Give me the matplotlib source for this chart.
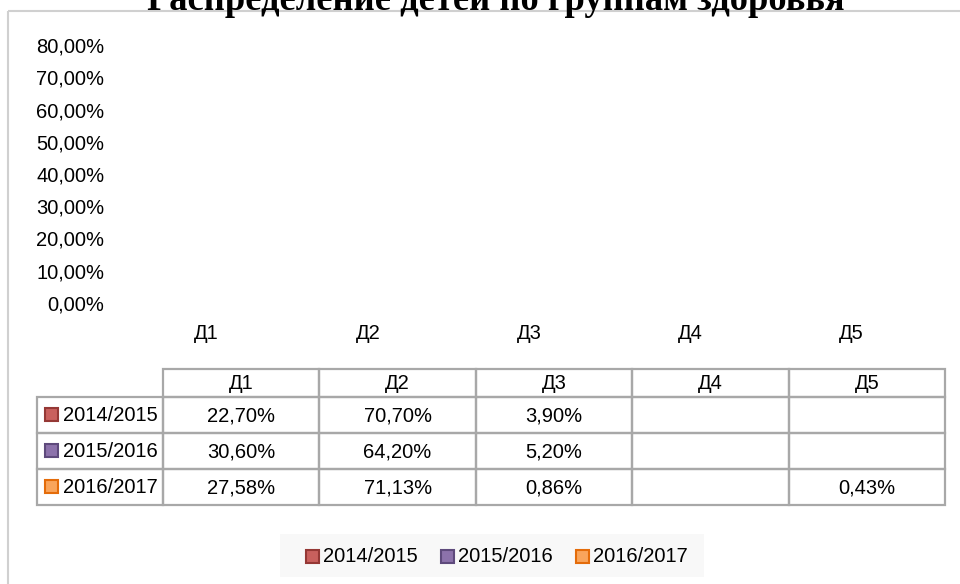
import matplotlib
matplotlib.use("Agg")
import matplotlib.pyplot as plt
from matplotlib.patches import Rectangle
from matplotlib import font_manager as fm

# ---------------- data ----------------
title = "Распределение детей по группам здоровья"
categories = ["Д1", "Д2", "Д3", "Д4", "Д5"]
series_names = ["2014/2015", "2015/2016", "2016/2017"]
values_2014 = [22.70, 70.70, 3.90, None, None]
values_2015 = [30.60, 64.20, 5.20, None, None]
values_2016 = [27.58, 71.13, 0.86, None, 0.43]
y_ticks = [0, 10, 20, 30, 40, 50, 60, 70, 80]

series_values = [values_2014, values_2015, values_2016]
fills = ["#C9605D", "#8C72AB", "#F9A55C"]
edges = ["#953835", "#5E4A7C", "#E46C0A"]

names = {f.name for f in fm.fontManager.ttflist}
sans = "Liberation Sans Narrow" if "Liberation Sans Narrow" in names else "Liberation Sans"
plt.rcParams["font.family"] = [sans, "DejaVu Sans"]
FS = 17.5 if sans == "Liberation Sans Narrow" else 14.5

W, H = 960, 584
fig = plt.figure(figsize=(W / 100, H / 100), dpi=100)

def fx(px):
    return px / W

def fy(py):
    return 1 - py / H

# overlay axes in pixel coordinates
ov = fig.add_axes([0, 0, 1, 1])
ov.set_xlim(0, W)
ov.set_ylim(H, 0)
ov.axis("off")

# outer chart frame (extends past the image)
ov.add_patch(Rectangle((7.5, 10.5), 980, 600, fill=False, edgecolor="#D0D0D0", lw=1.5))

# ---------------- main axes (no visible bars in reference) ----------------
ax_l, ax_r = 126, 932
ax_t, ax_b = 45, 303
ax = fig.add_axes([fx(ax_l), fy(ax_b), fx(ax_r - ax_l), (ax_b - ax_t) / H])
ax.set_facecolor("none")
ax.set_xlim(0, len(categories))
ax.set_ylim(0, 80)
ax.set_yticks(y_ticks)
ax.set_yticklabels([f"{v:.2f}%".replace(".", ",") for v in y_ticks], fontsize=FS)
ax.set_xticks([i + 0.5 for i in range(len(categories))])
ax.set_xticklabels(categories, fontsize=FS)
ax.tick_params(axis="y", length=0, pad=15.5)
ax.tick_params(axis="x", length=0, pad=15)
for s in ax.spines.values():
    s.set_visible(False)

# ---------------- title ----------------
t = fig.text(fx(496), fy(10), title, ha="center", va="baseline",
             family="Liberation Serif", weight="bold", fontsize=20)
fig.canvas.draw()
w = t.get_window_extent(fig.canvas.get_renderer()).width
t.set_fontsize(20 * 696 / w)

# ---------------- data table ----------------
grid = "#A8A8A8"
lab_l, tab_l, tab_r = 37, 163, 945
col_w = (tab_r - tab_l) / len(categories)
head_t, head_b = 369, 397
row_h = 36
lw = 1.6

# header cells
for j, c in enumerate(categories):
    x0 = tab_l + j * col_w
    ov.add_patch(Rectangle((x0, head_t), col_w, head_b - head_t, fill=False, edgecolor=grid, lw=lw))
    ov.text(x0 + col_w / 2, (head_t + head_b) / 2 + 0.5, c, ha="center", va="center", fontsize=FS)

for i, (name, vals) in enumerate(zip(series_names, series_values)):
    y0 = head_b + i * row_h
    ov.add_patch(Rectangle((lab_l, y0), tab_l - lab_l, row_h, fill=False, edgecolor=grid, lw=lw))
    ov.add_patch(Rectangle((45, y0 + 10.5), 13, 13, facecolor=fills[i], edgecolor=edges[i], lw=1.5))
    ov.text(63, y0 + row_h / 2 + 0.5, name, ha="left", va="center", fontsize=FS)
    for j, v in enumerate(vals):
        x0 = tab_l + j * col_w
        ov.add_patch(Rectangle((x0, y0), col_w, row_h, fill=False, edgecolor=grid, lw=lw))
        if v is not None:
            ov.text(x0 + col_w / 2, y0 + row_h / 2 + 0.5, f"{v:.2f}%".replace(".", ","),
                    ha="center", va="center", fontsize=FS)

# ---------------- legend ----------------
ov.add_patch(Rectangle((280, 534), 424, 43, facecolor="#F8F8F8", edgecolor="none"))
leg_sq = [305, 440, 575]
for i, name in enumerate(series_names):
    ov.add_patch(Rectangle((leg_sq[i] + 0.5, 549.5), 13, 13, facecolor=fills[i], edgecolor=edges[i], lw=1.5))
    ov.text(leg_sq[i] + 18, 556.5, name, ha="left", va="center", fontsize=FS)

fig.savefig("out.png", dpi=100)
